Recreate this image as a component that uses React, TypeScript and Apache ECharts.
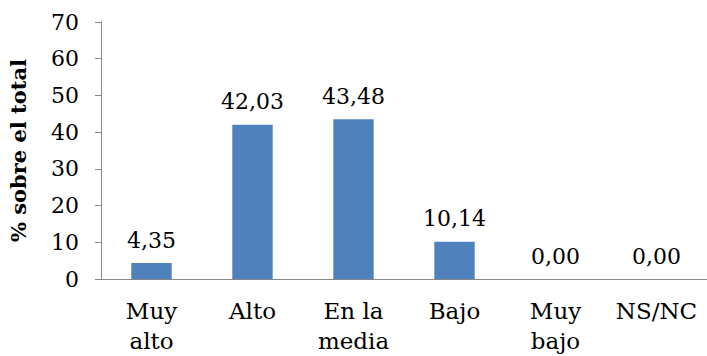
import React, { useEffect, useRef } from "react";
import * as echarts from "echarts";

const categories = ["Muy\nalto", "Alto", "En la\nmedia", "Bajo", "Muy\nbajo", "NS/NC"];
const values = [4.35, 42.03, 43.48, 10.14, 0.0, 0.0];
const yTicks = [0, 10, 20, 30, 40, 50, 60, 70];

const FONT = "DejaVu Serif";

export default function App() {
  const ref = useRef<HTMLDivElement>(null);
  useEffect(() => {
    if (!ref.current) return;
    const chart = echarts.init(ref.current, null, { renderer: "svg" });
    chart.setOption({
      animation: false,
      grid: { left: 94, top: 22, bottom: 73, right: 0, containLabel: false },
      xAxis: {
        type: "category",
        data: categories,
        axisLine: { lineStyle: { color: "#868686", width: 1 } },
        axisTick: { show: false },
        axisLabel: {
          interval: 0,
          color: "#000",
          fontFamily: FONT,
          fontSize: 23,
          lineHeight: 30,
          margin: 17,
        },
      },
      yAxis: {
        type: "value",
        min: yTicks[0],
        max: yTicks[yTicks.length - 1],
        interval: 10,
        name: "% sobre el total",
        nameLocation: "middle",
        nameGap: 72,
        nameRotate: 90,
        nameTextStyle: { color: "#000", fontFamily: FONT, fontSize: 21, fontWeight: "bold" },
        axisLine: { show: true, lineStyle: { color: "#868686", width: 1 } },
        axisTick: { show: true, inside: false, length: 6, lineStyle: { color: "#868686" } },
        splitLine: { show: false },
        axisLabel: { color: "#000", fontFamily: FONT, fontSize: 22, margin: 22 },
      },
      series: [
        {
          type: "bar",
          data: values,
          barWidth: "40%",
          itemStyle: { color: "#4F81BD" },
          label: {
            show: true,
            position: "top",
            distance: 12,
            color: "#000",
            fontFamily: FONT,
            fontSize: 22,
            formatter: (p: any) => p.value.toFixed(2).replace(".", ","),
          },
        },
      ],
    });
    return () => chart.dispose();
  }, []);
  return <div ref={ref} style={{ width: 707, height: 356, position: "absolute", left: 0, top: 0 }} />;
}
